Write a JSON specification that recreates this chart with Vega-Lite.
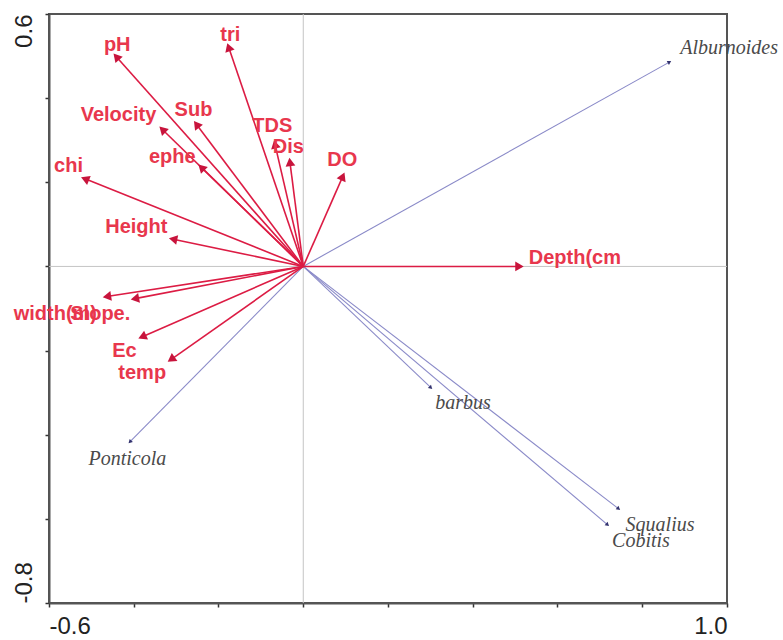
{
  "$schema": "https://vega.github.io/schema/vega-lite/v6.json",
  "autosize": {"type": "none"},
  "padding": {"left": 49, "top": 14, "right": 56, "bottom": 37},
  "width": 678,
  "height": 589,
  "datasets": {
    "origin": [{"v": 0}],
    "env": [
      {"var": "pH",       "x": -0.439, "y": 0.496,  "lx": -0.439, "ly": 0.527},
      {"var": "tri",      "x": -0.175, "y": 0.518,  "lx": -0.172, "ly": 0.549},
      {"var": "Velocity", "x": -0.330, "y": 0.323,  "lx": -0.436, "ly": 0.359},
      {"var": "Sub",      "x": -0.250, "y": 0.335,  "lx": -0.259, "ly": 0.371},
      {"var": "ephe",     "x": -0.238, "y": 0.233,  "lx": -0.309, "ly": 0.259},
      {"var": "chi",      "x": -0.512, "y": 0.207,  "lx": -0.554, "ly": 0.238},
      {"var": "Height",   "x": -0.304, "y": 0.064,  "lx": -0.394, "ly": 0.093},
      {"var": "TDS",      "x": -0.066, "y": 0.287,  "lx": -0.073, "ly": 0.333},
      {"var": "Dis",      "x": -0.031, "y": 0.245,  "lx": -0.035, "ly": 0.285},
      {"var": "DO",       "x": 0.092,  "y": 0.211,  "lx": 0.092,  "ly": 0.252},
      {"var": "Depth(cm", "x": 0.507,  "y": 0.0,    "lx": 0.641,  "ly": 0.021},
      {"var": "width(m)", "x": -0.460, "y": -0.071, "lx": -0.585, "ly": -0.112},
      {"var": "Slope.",   "x": -0.394, "y": -0.076, "lx": -0.479, "ly": -0.112},
      {"var": "Ec",       "x": -0.377, "y": -0.166, "lx": -0.422, "ly": -0.202},
      {"var": "temp",     "x": -0.309, "y": -0.219, "lx": -0.380, "ly": -0.254}
    ],
    "species": [
      {"sp": "Alburnoides", "x": 0.863,  "y": 0.485,  "lx": 1.005,  "ly": 0.518},
      {"sp": "barbus",      "x": 0.300,  "y": -0.287, "lx": 0.377,  "ly": -0.325},
      {"sp": "Squalius",    "x": 0.743,  "y": -0.575, "lx": 0.842,  "ly": -0.615},
      {"sp": "Cobitis",     "x": 0.717,  "y": -0.613, "lx": 0.797,  "ly": -0.653},
      {"sp": "Ponticola",   "x": -0.408, "y": -0.416, "lx": -0.415, "ly": -0.458}
    ]
  },
  "layer": [
    {
      "data": {"name": "origin"},
      "mark": {"type": "rule", "color": "#c4c4c4", "strokeWidth": 1},
      "encoding": {
        "x": {
          "field": "v",
          "type": "quantitative",
          "title": null,
          "scale": {"domain": [-0.6, 1.0], "nice": false, "zero": false},
          "axis": {
            "values": [-0.6, -0.4, -0.2, 0, 0.2, 0.4, 0.6, 0.8, 1.0],
            "format": ".1f",
            "labelExpr": "datum.value <= -0.599 || datum.value >= 0.999 ? replace(datum.label, '−', '-') : ''",
            "labelFlush": true,
            "labelPadding": 7,
            "grid": false
          }
        }
      }
    },
    {
      "data": {"name": "origin"},
      "mark": {"type": "rule", "color": "#c4c4c4", "strokeWidth": 1},
      "encoding": {
        "y": {
          "field": "v",
          "type": "quantitative",
          "title": null,
          "scale": {"domain": [-0.8, 0.6], "nice": false, "zero": false},
          "axis": {
            "values": [-0.8, -0.6, -0.4, -0.2, 0, 0.2, 0.4, 0.6],
            "format": ".1f",
            "labelExpr": "datum.value <= -0.799 || datum.value >= 0.599 ? replace(datum.label, '−', '-') : ''",
            "labelAngle": -90,
            "labelAlign": {"condition": {"test": "datum.value >= 0.599", "value": "right"}, "value": "left"},
            "labelBaseline": "alphabetic",
            "labelPadding": 14,
            "grid": false
          }
        }
      }
    },
    {
      "data": {"name": "species"},
      "mark": {"type": "rule", "color": "#8a8ac8", "strokeWidth": 1.1},
      "encoding": {
        "x": {"field": "x", "type": "quantitative"},
        "y": {"field": "y", "type": "quantitative"},
        "x2": {"datum": 0},
        "y2": {"datum": 0}
      }
    },
    {
      "data": {"name": "species"},
      "transform": [{"calculate": "atan2(datum.x, datum.y) * 180 / PI", "as": "ang"}],
      "mark": {"type": "point", "shape": "triangle", "filled": true, "size": 20, "color": "#33336e", "opacity": 1},
      "encoding": {
        "x": {"field": "x", "type": "quantitative"},
        "y": {"field": "y", "type": "quantitative"},
        "angle": {"field": "ang", "type": "quantitative", "scale": null}
      }
    },
    {
      "data": {"name": "env"},
      "mark": {"type": "rule", "color": "#dc1c44", "strokeWidth": 1.6},
      "encoding": {
        "x": {"field": "x", "type": "quantitative"},
        "y": {"field": "y", "type": "quantitative"},
        "x2": {"datum": 0},
        "y2": {"datum": 0}
      }
    },
    {
      "data": {"name": "env"},
      "transform": [{"calculate": "atan2(datum.x, datum.y) * 180 / PI", "as": "ang"}],
      "mark": {"type": "point", "shape": "triangle", "filled": true, "size": 95, "color": "#c8143c", "opacity": 1},
      "encoding": {
        "x": {"field": "x", "type": "quantitative"},
        "y": {"field": "y", "type": "quantitative"},
        "angle": {"field": "ang", "type": "quantitative", "scale": null}
      }
    },
    {
      "data": {"name": "env"},
      "mark": {"type": "text", "font": "Liberation Sans", "fontWeight": "bold", "fontSize": 20, "color": "#e8374d", "align": "center", "baseline": "middle"},
      "encoding": {
        "x": {"field": "lx", "type": "quantitative"},
        "y": {"field": "ly", "type": "quantitative"},
        "text": {"field": "var"}
      }
    },
    {
      "data": {"name": "species"},
      "mark": {"type": "text", "font": "Liberation Serif", "fontStyle": "italic", "fontSize": 20, "color": "#4a4a4a", "align": "center", "baseline": "middle"},
      "encoding": {
        "x": {"field": "lx", "type": "quantitative"},
        "y": {"field": "ly", "type": "quantitative"},
        "text": {"field": "sp"}
      }
    }
  ],
  "config": {
    "font": "Liberation Sans",
    "view": {"stroke": "#555555", "strokeWidth": 2},
    "axis": {
      "domainColor": "#555555",
      "domainWidth": 2,
      "tickColor": "#333333",
      "tickSize": 4,
      "tickWidth": 1.5,
      "labelFont": "Liberation Sans",
      "labelFontSize": 24,
      "labelColor": "#222222"
    }
  }
}
